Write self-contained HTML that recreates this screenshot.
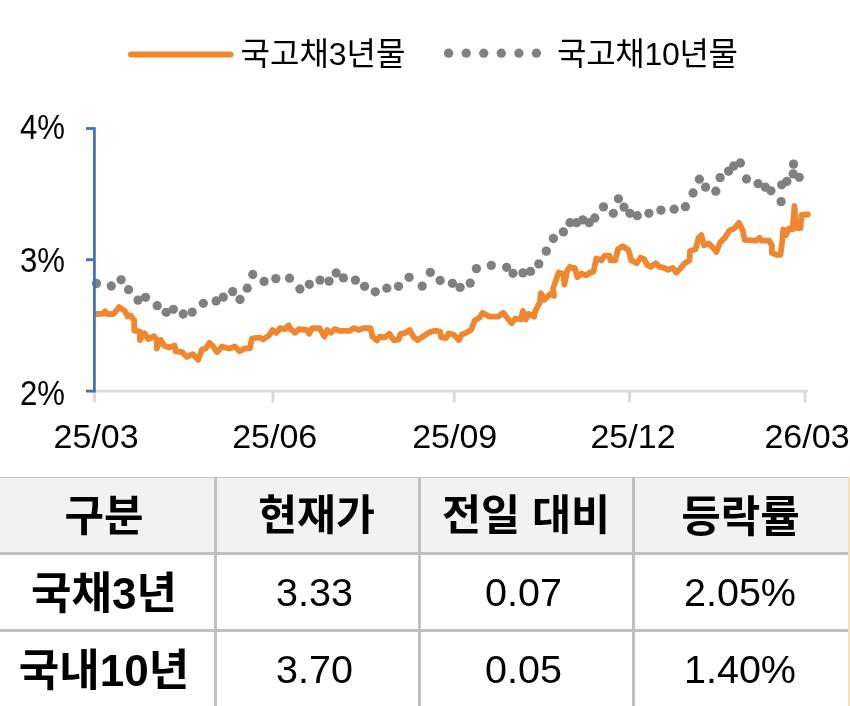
<!DOCTYPE html>
<html lang="ko">
<head>
<meta charset="utf-8">
<title>국고채 금리</title>
<style>
html,body{margin:0;padding:0;background:#fff;}
body{width:850px;height:706px;position:relative;overflow:hidden;font-family:"Liberation Sans","Noto Sans CJK KR",sans-serif;color:#000;}
#chart{position:absolute;left:0;top:0;width:850px;height:477px;}
#chart text{font-family:"Liberation Sans","Noto Sans CJK KR",sans-serif;fill:#000;}
.t{position:absolute;white-space:nowrap;line-height:1;}
#tbl{position:absolute;left:0;top:477px;width:850px;height:229px;}
.hdr{position:absolute;left:0;top:0;width:848px;height:76px;background:#f2f2f2;border-top:1px solid #c4c4c4;box-sizing:border-box;}
.hl{position:absolute;left:0;width:848px;height:3px;background:#c0c0c0;}
.vl{position:absolute;top:0;width:3px;height:229px;background:#c0c0c0;}
.strip{position:absolute;left:848px;top:0;width:2px;height:229px;background:#f6dfb3;}
.c{position:absolute;text-align:center;white-space:nowrap;line-height:1;}
.h{font-weight:bold;font-size:43px;}
.b{font-weight:bold;font-size:44px;}
.n{font-size:39.5px;}
</style>
</head>
<body>
<svg id="chart" width="850" height="477" viewBox="0 0 850 477">
<!-- legend -->
<line x1="131" y1="54.5" x2="230.5" y2="54.5" stroke="#F0862E" stroke-width="6" stroke-linecap="round"/>
<text x="240.5" y="64.5" font-size="32">국고채3년물</text>
<g fill="#808080">
<circle cx="448.6" cy="53.2" r="4.65"/><circle cx="466.2" cy="53.2" r="4.65"/><circle cx="483.7" cy="53.2" r="4.65"/><circle cx="501.3" cy="53.2" r="4.65"/><circle cx="518.9" cy="53.2" r="4.65"/><circle cx="536.4" cy="53.2" r="4.65"/>
</g>
<text x="557" y="64.5" font-size="32" letter-spacing="-0.3">국고채10년물</text>
<!-- x axis -->
<g stroke="#D9D9D9" stroke-width="2.8" fill="none">
<line x1="94.4" y1="391.2" x2="807.8" y2="391.2"/>
<line x1="94.4" y1="391" x2="94.4" y2="402.5"/>
<line x1="272.9" y1="391" x2="272.9" y2="402.5"/>
<line x1="454.2" y1="391" x2="454.2" y2="402.5"/>
<line x1="629.6" y1="391" x2="629.6" y2="402.5"/>
<line x1="805" y1="391" x2="805" y2="402.5"/>
</g>
<!-- series -->
<g fill="#808080">
<circle cx="96.5" cy="283.5" r="4.65"/>
<circle cx="111.3" cy="286.0" r="4.65"/>
<circle cx="121.1" cy="279.8" r="4.65"/>
<circle cx="128.6" cy="289.7" r="4.65"/>
<circle cx="138.0" cy="300.1" r="4.65"/>
<circle cx="145.5" cy="297.3" r="4.65"/>
<circle cx="157.2" cy="305.7" r="4.65"/>
<circle cx="166.2" cy="312.3" r="4.65"/>
<circle cx="173.4" cy="309.3" r="4.65"/>
<circle cx="183.2" cy="314.0" r="4.65"/>
<circle cx="192.2" cy="312.1" r="4.65"/>
<circle cx="203.3" cy="303.3" r="4.65"/>
<circle cx="216.1" cy="301.0" r="4.65"/>
<circle cx="223.3" cy="297.1" r="4.65"/>
<circle cx="232.7" cy="291.6" r="4.65"/>
<circle cx="240.0" cy="299.5" r="4.65"/>
<circle cx="247.2" cy="288.2" r="4.65"/>
<circle cx="252.8" cy="274.5" r="4.65"/>
<circle cx="264.1" cy="281.4" r="4.65"/>
<circle cx="275.8" cy="278.6" r="4.65"/>
<circle cx="289.5" cy="278.2" r="4.65"/>
<circle cx="299.9" cy="289.0" r="4.65"/>
<circle cx="309.3" cy="284.3" r="4.65"/>
<circle cx="320.0" cy="280.1" r="4.65"/>
<circle cx="329.1" cy="281.1" r="4.65"/>
<circle cx="336.2" cy="273.0" r="4.65"/>
<circle cx="343.4" cy="277.9" r="4.65"/>
<circle cx="355.4" cy="280.1" r="4.65"/>
<circle cx="364.6" cy="286.3" r="4.65"/>
<circle cx="375.2" cy="291.8" r="4.65"/>
<circle cx="386.8" cy="288.2" r="4.65"/>
<circle cx="398.5" cy="286.3" r="4.65"/>
<circle cx="409.1" cy="277.3" r="4.65"/>
<circle cx="422.2" cy="286.1" r="4.65"/>
<circle cx="430.3" cy="272.4" r="4.65"/>
<circle cx="440.1" cy="280.4" r="4.65"/>
<circle cx="452.4" cy="283.3" r="4.65"/>
<circle cx="460.1" cy="287.4" r="4.65"/>
<circle cx="470.2" cy="283.1" r="4.65"/>
<circle cx="476.4" cy="268.6" r="4.65"/>
<circle cx="491.3" cy="265.4" r="4.65"/>
<circle cx="506.6" cy="267.3" r="4.65"/>
<circle cx="513.0" cy="273.3" r="4.65"/>
<circle cx="522.9" cy="272.9" r="4.65"/>
<circle cx="530.5" cy="271.4" r="4.65"/>
<circle cx="538.8" cy="263.9" r="4.65"/>
<circle cx="546.3" cy="251.1" r="4.65"/>
<circle cx="553.4" cy="238.5" r="4.65"/>
<circle cx="563.4" cy="231.9" r="4.65"/>
<circle cx="570.0" cy="222.7" r="4.65"/>
<circle cx="576.6" cy="222.7" r="4.65"/>
<circle cx="582.8" cy="219.9" r="4.65"/>
<circle cx="589.2" cy="222.7" r="4.65"/>
<circle cx="594.8" cy="218.0" r="4.65"/>
<circle cx="603.5" cy="206.9" r="4.65"/>
<circle cx="613.3" cy="213.3" r="4.65"/>
<circle cx="618.4" cy="198.8" r="4.65"/>
<circle cx="624.0" cy="207.1" r="4.65"/>
<circle cx="629.9" cy="213.3" r="4.65"/>
<circle cx="637.2" cy="215.7" r="4.65"/>
<circle cx="648.9" cy="213.3" r="4.65"/>
<circle cx="660.9" cy="210.1" r="4.65"/>
<circle cx="674.1" cy="209.2" r="4.65"/>
<circle cx="685.4" cy="206.7" r="4.65"/>
<circle cx="693.1" cy="193.0" r="4.65"/>
<circle cx="699.4" cy="179.2" r="4.65"/>
<circle cx="705.6" cy="187.1" r="4.65"/>
<circle cx="715.8" cy="191.2" r="4.65"/>
<circle cx="720.1" cy="177.6" r="4.65"/>
<circle cx="728.6" cy="171.1" r="4.65"/>
<circle cx="733.7" cy="166.0" r="4.65"/>
<circle cx="740.4" cy="163.0" r="4.65"/>
<circle cx="746.5" cy="179.0" r="4.65"/>
<circle cx="758.1" cy="183.7" r="4.65"/>
<circle cx="765.3" cy="187.1" r="4.65"/>
<circle cx="770.9" cy="190.8" r="4.65"/>
<circle cx="781.1" cy="201.6" r="4.65"/>
<circle cx="781.7" cy="184.8" r="4.65"/>
<circle cx="786.9" cy="181.4" r="4.65"/>
<circle cx="793.5" cy="164.1" r="4.65"/>
<circle cx="793.2" cy="173.9" r="4.65"/>
<circle cx="799.2" cy="177.3" r="4.65"/>
</g>
<polyline points="96.8,314.0 103.2,313.6 105.1,311.2 106.9,314.0 113.5,314.0 119.2,307.1 124.8,310.8 127.6,316.5 130.5,315.5 134.2,320.2 134.2,330.6 139.9,331.5 139.9,340.0 144.6,333.4 148.4,339.1 154.0,336.2 156.8,340.0 156.8,348.5 160.6,340.0 164.4,345.6 169.1,347.5 174.7,345.6 175.6,351.3 182.2,352.2 186.9,356.9 192.6,354.1 198.2,359.8 202.0,349.4 205.8,348.5 209.5,342.8 213.3,346.6 217.1,352.2 221.8,346.6 229.3,348.5 234.9,346.6 239.6,351.3 244.4,348.5 250.0,348.1 250.0,347.9 251.9,338.5 259.4,337.5 263.2,339.4 268.8,335.6 272.6,330.0 276.4,332.8 280.1,328.1 284.8,329.1 288.6,325.3 290.5,329.1 295.2,332.8 298.9,329.1 306.5,330.0 309.3,333.8 312.1,328.1 319.6,328.1 324.4,336.6 327.2,330.0 330.9,332.8 334.7,329.1 340.4,330.9 349.8,330.9 353.5,328.1 359.2,330.0 362.9,328.1 370.5,328.1 372.4,336.6 377.1,340.4 379.9,336.6 384.6,337.5 389.3,333.8 394.0,340.4 398.7,339.4 400.6,333.8 405.3,332.8 410.0,330.0 410.0,330.7 413.8,337.3 417.5,340.1 423.2,336.4 428.8,332.6 434.5,330.7 440.1,331.6 441.1,337.3 445.8,338.2 448.6,333.5 453.3,334.5 458.9,340.1 461.8,334.5 466.5,332.6 471.2,329.8 474.9,320.4 479.6,317.5 482.5,312.8 489.1,316.6 498.5,316.6 503.2,312.8 506.9,317.5 511.6,323.2 515.4,318.5 521.1,319.4 522.9,310.9 525.8,319.4 528.6,313.8 534.2,316.6 535.2,310.9 539.9,302.5 540.8,293.1 544.6,299.6 550.2,294.0 554.0,295.9 553.1,288.4 558.7,272.4 563.4,274.2 564.4,284.6 567.2,270.5 570.0,266.7 570.0,267.9 574.7,267.9 577.5,277.3 581.3,273.5 586.0,275.4 589.8,272.6 593.5,271.6 596.4,258.5 601.1,260.4 604.8,255.6 609.5,255.6 610.5,260.4 615.2,260.4 618.0,249.1 622.7,246.2 628.4,250.0 631.2,260.4 636.8,263.2 640.6,257.5 644.4,259.4 647.2,265.1 650.9,266.9 655.6,263.2 659.4,266.9 664.1,267.9 667.9,269.8 672.6,267.9 676.4,272.6 680.1,268.8 684.8,263.2 689.5,260.4 690.0,251.1 695.6,249.2 698.5,237.9 701.3,235.1 704.1,245.4 708.8,243.5 713.5,248.2 716.4,252.0 720.1,242.6 724.8,237.9 729.5,230.4 734.2,228.5 738.9,222.8 742.7,230.4 744.6,239.8 755.9,240.7 759.6,237.9 761.5,240.7 769.1,240.7 771.9,245.4 771.9,252.9 776.6,254.8 780.4,254.8 782.2,241.6 783.2,229.4 786.0,235.1 788.8,228.5 792.6,229.4 794.5,205.9 795.5,224 797,228 800.5,228 801.5,215 807.8,214.5" fill="none" stroke="#F0862E" stroke-width="5.8" stroke-linejoin="round" stroke-linecap="round"/>
<!-- y axis -->
<g stroke="#4474B6" stroke-width="2.8" fill="none">
<line x1="94.4" y1="127.2" x2="94.4" y2="392.5"/>
<line x1="86" y1="128.5" x2="94.4" y2="128.5"/>
<line x1="86" y1="259.7" x2="94.4" y2="259.7"/>
<line x1="86" y1="391.1" x2="94.4" y2="391.1"/>
</g>
<g font-size="34">
<text transform="translate(20 138.6) scale(0.915 1.02)">4%</text>
<text transform="translate(20 271.8) scale(0.915 1.02)">3%</text>
<text transform="translate(20 405.3) scale(0.915 1.02)">2%</text>
<text x="96.1" y="448" text-anchor="middle">25/03</text>
<text x="274.7" y="448" text-anchor="middle">25/06</text>
<text x="454.7" y="448" text-anchor="middle">25/09</text>
<text x="633" y="448" text-anchor="middle">25/12</text>
<text x="807" y="448" text-anchor="middle">26/03</text>
</g>
</svg>
<div id="tbl">
<div class="hdr"></div>
<div class="hl" style="top:75px"></div>
<div class="hl" style="top:152px"></div>
<div class="vl" style="left:214px"></div>
<div class="vl" style="left:418px"></div>
<div class="vl" style="left:632px"></div>
<div class="strip"></div>
<div class="c h" style="left:-8px;width:224px;top:18px">구분</div>
<div class="c h" style="left:216px;width:201px;top:18px;font-size:42.3px">현재가</div>
<div class="c h" style="left:420.5px;width:211px;top:18px;font-size:42.5px">전일 대비</div>
<div class="c h" style="left:634px;width:213px;top:19px">등락률</div>
<div class="c b" style="left:-8px;width:224px;top:95px">국채3년</div>
<div class="c n" style="left:214px;width:201px;top:96px">3.33</div>
<div class="c n" style="left:418px;width:211px;top:96px">0.07</div>
<div class="c n" style="left:633.5px;width:213px;top:96px">2.05%</div>
<div class="c b" style="left:-8px;width:224px;top:171.5px">국내10년</div>
<div class="c n" style="left:214px;width:201px;top:173px">3.70</div>
<div class="c n" style="left:418px;width:211px;top:173px">0.05</div>
<div class="c n" style="left:633.5px;width:213px;top:173px">1.40%</div>
</div>
</body>
</html>
